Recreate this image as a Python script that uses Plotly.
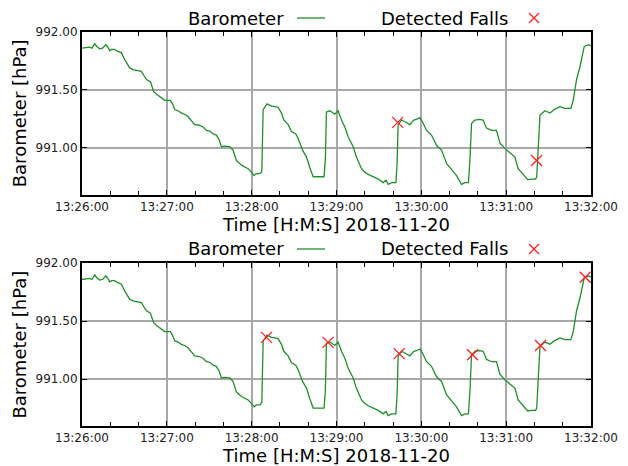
import pandas as pd
import plotly.graph_objects as go
from plotly.subplots import make_subplots

# ---- data (seconds after 13:26:00, hPa) ----
start = "2018-11-20 13:26:00"
baro_sec = [0, 2.5, 5.4, 7, 9, 10.5, 12.5, 14.5, 16.8, 18, 19.6, 21, 23, 25, 27.9, 30.2, 32, 33.8,
            36, 38.5, 42, 44, 45.6, 48.4, 50.7, 53, 55, 58.5, 62.5, 64, 65.6, 68, 70.3, 72.5, 75,
            77, 79.7, 83, 85.6, 88, 90.4, 92.7, 95, 97, 98.6, 101, 104.5, 106.8, 109.2, 111, 112.8,
            115, 117.5, 119.8, 121.7, 123, 124.5, 126.2, 127.2, 128.1, 130.9, 132.5, 134, 136.5,
            138.7, 141.1, 142.7, 145.8, 148.2, 151.2, 152.9, 156, 158.8, 161.1, 163.5, 165.9,
            168.5, 171.2, 172.1, 172.9, 175.3, 178.8, 181.1, 183.5, 185.9, 188.2, 191.8, 194.1,
            197.7, 200, 202.4, 205.9, 207.5, 209.5, 213, 215, 216.6, 219, 222, 222.8, 223.6, 226,
            228.3, 231.9, 234.7, 236.5, 238.9, 240.8, 243.7, 247.2, 250.8, 254.3, 257.8, 261.4,
            264.9, 268.4, 270.8, 273.3, 274.4, 275.5, 277.9, 281, 283.7, 286.1, 289.7, 293.2,
            295.6, 299.1, 302.6, 306.2, 308.5, 312, 315.2, 318, 320.8, 321.6, 322.2, 323.2, 323.9,
            327.4, 331, 334, 338, 341.6, 345.8, 347.4, 349.8, 352.2, 355.2, 358.5, 360]
baro_hpa = [991.86, 991.865, 991.87, 991.86, 991.90, 991.875, 991.855, 991.86, 991.89, 991.875,
            991.84, 991.85, 991.85, 991.835, 991.82, 991.76, 991.72, 991.69,
            991.675, 991.667, 991.66, 991.62, 991.59, 991.57, 991.485, 991.46, 991.44, 991.41,
            991.41, 991.38, 991.33, 991.32, 991.30, 991.29, 991.27,
            991.24, 991.20, 991.195, 991.18, 991.15, 991.145, 991.12, 991.11, 991.07, 991.01,
            991.015, 991.01, 990.98, 990.89, 990.87, 990.85,
            990.835, 990.82, 990.79, 990.76, 990.775, 990.78, 990.78, 990.80,
            991.33, 991.38, 991.37, 991.36, 991.355,
            991.35, 991.30, 991.24, 991.20, 991.14, 991.12, 991.08, 990.98, 990.92, 990.83,
            990.75, 990.75,
            990.75, 990.75, 990.90, 991.31, 991.32, 991.29, 991.32, 991.24, 991.18, 991.095,
            991.01, 990.92,
            990.82, 990.79, 990.77, 990.75, 990.74, 990.73, 990.70, 990.72, 990.685, 990.70,
            990.70, 990.85, 991.20, 991.24,
            991.225, 991.20, 991.24, 991.245, 991.26, 991.225, 991.15, 991.11, 991.02, 990.98,
            990.865, 990.81,
            990.76, 990.685, 990.70, 990.70, 990.90, 991.21, 991.24, 991.245, 991.24, 991.17,
            991.15, 991.15,
            991.04, 990.995, 990.955, 990.92, 990.82, 990.77, 990.725, 990.73, 990.73, 990.75,
            990.89, 991.10, 991.28,
            991.32, 991.30, 991.33, 991.355, 991.34, 991.34, 991.41, 991.59, 991.70, 991.875,
            991.89, 991.88]

falls_top_sec = [223.3, 321.5]
falls_top_hpa = [991.22, 990.89]
falls_bot_sec = [130.5, 174.0, 224.3, 276.2, 324.3, 355.9]
falls_bot_hpa = [991.36, 991.317, 991.22, 991.21, 991.29, 991.88]

y_ticks = [991.0, 991.5, 992.0]
y_range = [990.595, 992.0]
x_range = ["2018-11-20 13:26:00", "2018-11-20 13:32:00"]


def to_time(secs):
    return pd.Timestamp(start) + pd.to_timedelta(secs, unit="s")


GREEN = "#1f8f2a"
RED = "#ff2020"
FONT = "DejaVu Sans"

fig = make_subplots(rows=2, cols=1, vertical_spacing=0.174)

for row, (fs, fh) in enumerate([(falls_top_sec, falls_top_hpa), (falls_bot_sec, falls_bot_hpa)], start=1):
    fig.add_trace(go.Scatter(x=to_time(baro_sec), y=baro_hpa, mode="lines", name="Barometer",
                             line=dict(color=GREEN, width=1.3), showlegend=False), row=row, col=1)
    fig.add_trace(go.Scatter(x=to_time(fs), y=fh, mode="markers", name="Detected Falls",
                             marker=dict(symbol="x-thin", size=11, line=dict(color=RED, width=1.3)),
                             showlegend=False), row=row, col=1)

axis_common = dict(showline=True, linecolor="black", linewidth=2, mirror="allticks",
                   ticks="inside", ticklen=5, tickcolor="black", tickwidth=1,
                   showgrid=True, gridcolor="#a8a8a8", gridwidth=1.5, zeroline=False,
                   tickfont=dict(family=FONT, size=12, color="#222"))

for row in (1, 2):
    fig.update_xaxes(row=row, col=1, type="date", range=x_range, dtick=60000,
                     tickformat="%H:%M:%S",
                     minor=dict(dtick=20000, ticks="inside", ticklen=4, tickcolor="black", showgrid=False),
                     title=dict(text="Time [H:M:S] 2018-11-20", font=dict(family=FONT, size=18, color="black"),
                                standoff=4),
                     **axis_common)
    fig.update_yaxes(row=row, col=1, range=y_range, tickvals=y_ticks, tickformat=".2f",
                     title=dict(text="Barometer [hPa]", font=dict(family=FONT, size=18, color="black"),
                                standoff=4),
                     **axis_common)

W, H = 628, 466
ML, MR, MT, MB = 82, 37, 32, 40
PW, PH = W - ML - MR, H - MT - MB


def px(x):
    return (x - ML) / PW


def py(y):
    return (H - MB - y) / PH


annotations = []
shapes = []
for ly in (18, 249):
    annotations.append(dict(text="Barometer", x=px(286), y=py(ly), xref="paper", yref="paper",
                            xanchor="right", yanchor="middle", showarrow=False,
                            font=dict(family=FONT, size=18, color="black")))
    annotations.append(dict(text="Detected Falls", x=px(510), y=py(ly), xref="paper", yref="paper",
                            xanchor="right", yanchor="middle", showarrow=False,
                            font=dict(family=FONT, size=18, color="black")))
    shapes.append(dict(type="line", xref="paper", yref="paper", x0=px(297), x1=px(325),
                       y0=py(ly), y1=py(ly), line=dict(color=GREEN, width=1.3)))
    s = 5
    shapes.append(dict(type="line", xref="paper", yref="paper", x0=px(534 - s), x1=px(534 + s),
                       y0=py(ly - s), y1=py(ly + s), line=dict(color=RED, width=1.3)))
    shapes.append(dict(type="line", xref="paper", yref="paper", x0=px(534 - s), x1=px(534 + s),
                       y0=py(ly + s), y1=py(ly - s), line=dict(color=RED, width=1.3)))

fig.update_layout(width=W, height=H, margin=dict(l=ML, r=MR, t=MT, b=MB, autoexpand=False),
                  plot_bgcolor="white", paper_bgcolor="white", showlegend=False,
                  annotations=annotations, shapes=shapes,
                  font=dict(family=FONT))

fig.write_html("out.html", config={"displayModeBar": False},
               post_script="document.body.style.margin='0';document.body.style.overflow='hidden';")
